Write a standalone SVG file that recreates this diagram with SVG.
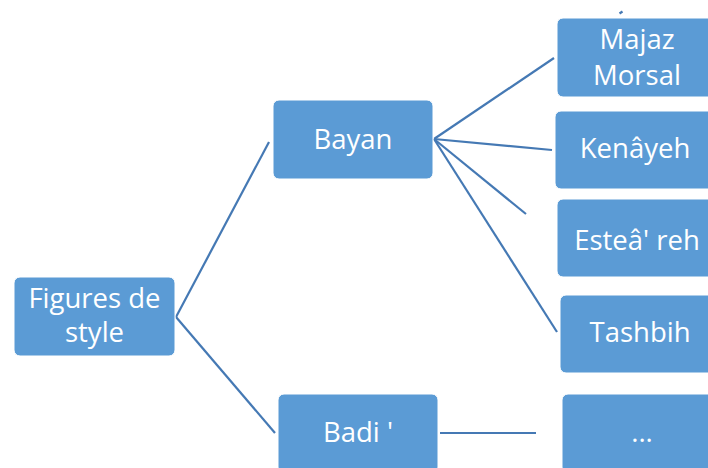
<svg xmlns="http://www.w3.org/2000/svg" width="708" height="468" viewBox="0 0 708 468">
<style>
.box{fill:#5B9BD5;stroke:#FFFFFF;stroke-width:1}
.lbl{font-family:"Open Sans","Liberation Sans",sans-serif;font-size:27.5px;fill:#FFFFFF;text-anchor:middle}
.con line{stroke:#4579B4;stroke-width:2.2;fill:none}
</style>
<rect width="708" height="468" fill="#FFFFFF"/>
<g id="connectors" class="con">
<line x1="176" y1="317" x2="269" y2="142"/>
<line x1="176" y1="317" x2="275" y2="433"/>
<line x1="434" y1="139" x2="554" y2="58"/>
<line x1="434" y1="139" x2="552" y2="150"/>
<line x1="434" y1="139" x2="526" y2="214"/>
<line x1="434" y1="139" x2="557" y2="332"/>
<line x1="440" y1="433" x2="536" y2="433"/>
<line x1="619.5" y1="13.5" x2="622.5" y2="11.5"/>
</g>
<g id="n-figures"><rect class="box" x="14" y="277" width="161" height="79" rx="6"/><text class="lbl" x="94.5" y="308">Figures de</text><text class="lbl" x="94.5" y="342">style</text></g>
<g id="n-bayan"><rect class="box" x="273" y="100" width="160" height="79" rx="6"/><text class="lbl" x="353" y="149">Bayan</text></g>
<g id="n-badi"><rect class="box" x="278" y="394" width="160" height="79" rx="6"/><text class="lbl" x="358" y="442">Badi '</text></g>
<g id="n-majaz"><rect class="box" x="557" y="18" width="160" height="79" rx="6"/><text class="lbl" x="637" y="49">Majaz</text><text class="lbl" x="637" y="85">Morsal</text></g>
<g id="n-kenayeh"><rect class="box" x="555" y="111" width="160" height="78" rx="6"/><text class="lbl" x="635" y="158">Kenâyeh</text></g>
<g id="n-esteareh"><rect class="box" x="557" y="199" width="160" height="78" rx="6"/><text class="lbl" x="637" y="250">Esteâ' reh</text></g>
<g id="n-tashbih"><rect class="box" x="560" y="295" width="160" height="78" rx="6"/><text class="lbl" x="640" y="342">Tashbih</text></g>
<g id="n-more"><rect class="box" x="562" y="394" width="160" height="79" rx="6"/><text class="lbl" x="642" y="442">...</text></g>
</svg>
